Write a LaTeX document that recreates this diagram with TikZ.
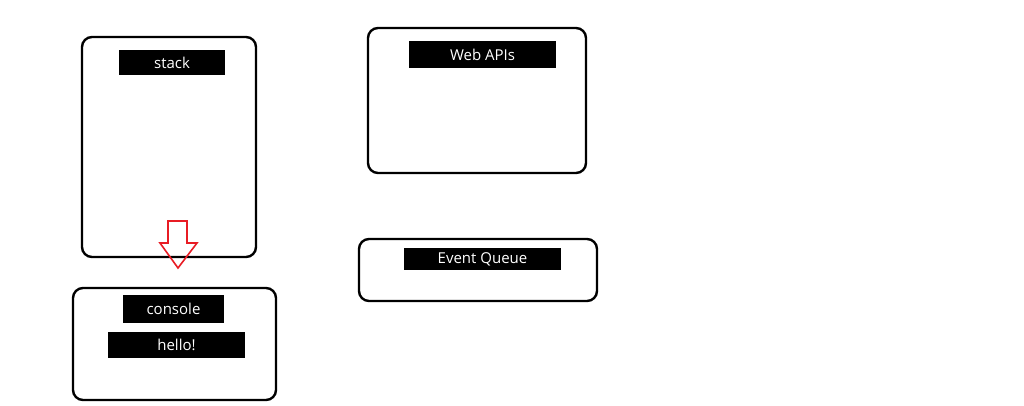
\documentclass[tikz,border=0pt]{standalone}
\usepackage{fontspec}
\setmainfont{Open Sans}
\begin{document}
\begin{tikzpicture}[x=1pt,y=-1pt,
  panel/.style={draw=black, line width=2.4pt, rounded corners=10pt, fill=white},
  tag/.style={fill=black, text=white, inner sep=0pt, font=\fontsize{15}{17}\selectfont},
  downarrow/.style={draw={rgb,255:red,232;green,28;blue,36}, line width=1.6pt, line join=miter}]
\useasboundingbox (0,0) rectangle (1024,406);
% panels
\node[panel, minimum width=174pt, minimum height=220pt] (stackbox) at (169,147) {};
\node[panel, minimum width=218pt, minimum height=145pt] (webbox) at (477,100.5) {};
\node[panel, minimum width=238pt, minimum height=62pt] (queuebox) at (478,270) {};
\node[panel, minimum width=203pt, minimum height=112pt] (consolebox) at (174.5,344) {};
% labels
\node[tag, minimum width=106pt, minimum height=25pt] (stacktag) at (172,62.5) {stack};
\node[tag, minimum width=147pt, minimum height=27pt] (webtag) at (482.5,54.5) {Web APIs};
\node[tag, minimum width=157pt, minimum height=22pt] (queuetag) at (482.5,259) {Event Queue};
\node[tag, minimum width=101pt, minimum height=28pt] (consoletag) at (173.5,309) {console};
\node[tag, minimum width=137pt, minimum height=26pt] (hellotag) at (176.5,345) {hello!};
% red arrow
\draw[downarrow] (168,221) -- (187,221) -- (187,243) -- (197,243) -- (178,268) -- (160,243) -- (168,243) -- cycle;
\end{tikzpicture}
\end{document}
